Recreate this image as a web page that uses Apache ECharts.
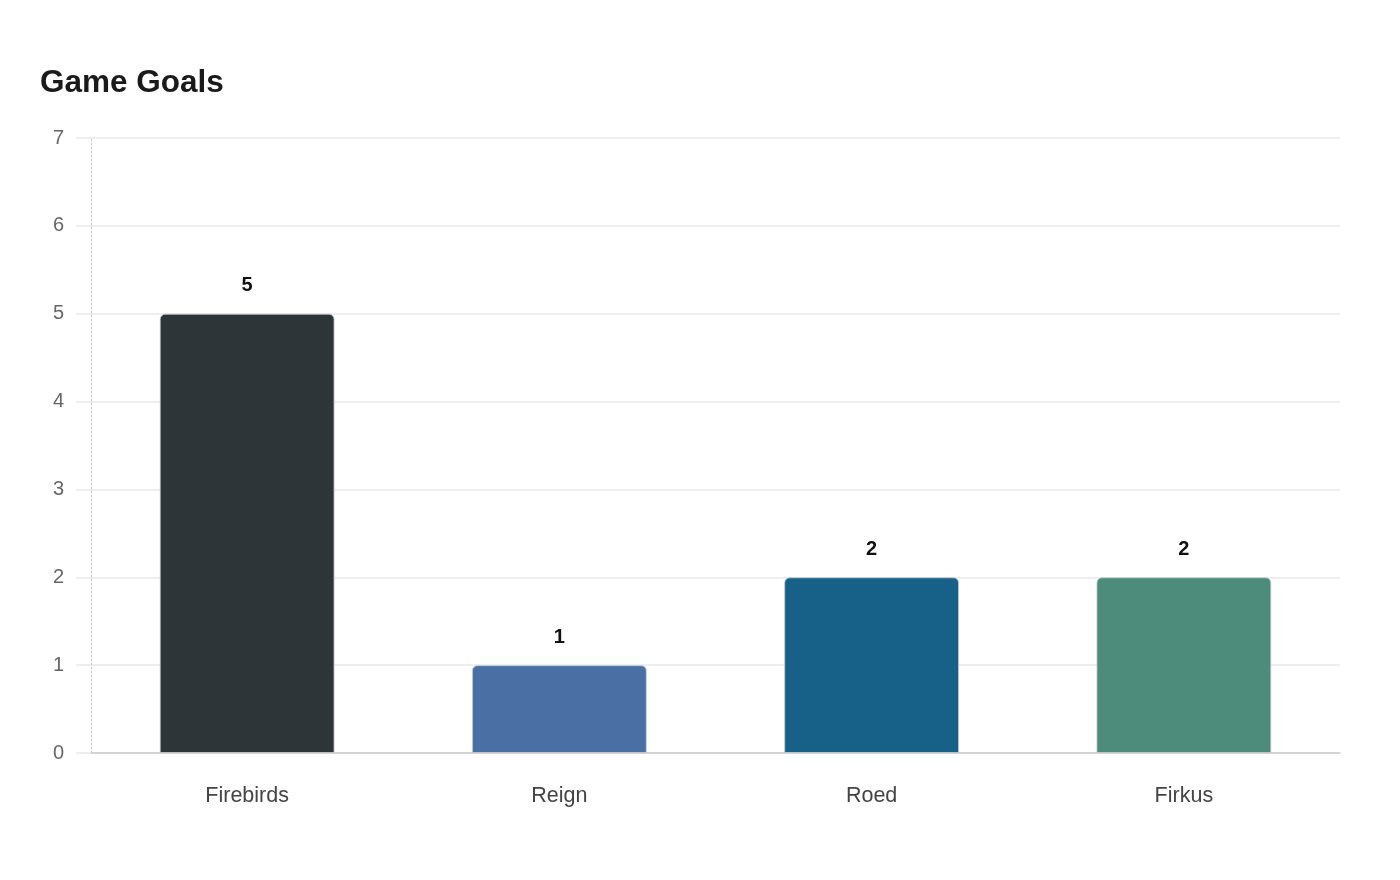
<!DOCTYPE html>
<html><head><meta charset="utf-8">
<script src="https://cdn.jsdelivr.net/npm/echarts@6/dist/echarts.min.js"></script>
<style>html,body{margin:0;padding:0;background:#fff}#c{width:1400px;height:880px}</style>
</head><body><div id="c"></div>
<script>
const categories = ["Firebirds", "Reign", "Roed", "Firkus"];
const goals = [5, 1, 2, 2];
const barColors = ["#2e3538", "#4a6fa5", "#176087", "#4d8c7a"];
const yTicks = [0, 1, 2, 3, 4, 5, 6, 7];

const chart = echarts.init(document.getElementById('c'));
chart.setOption({
  animation: false,
  title: {
    text: 'Game Goals', left: 35, top: 62,
    textStyle: { fontFamily: 'Liberation Sans, Arial, sans-serif', fontSize: 31.5, fontWeight: 'bold', color: '#1a1a1a' }
  },
  grid: { left: 91, right: 60, top: 138, bottom: 127 },
  xAxis: {
    type: 'category', data: categories,
    axisLine: { lineStyle: { color: '#ccc', width: 1.5 } },
    axisTick: { show: false },
    axisLabel: { fontFamily: 'Liberation Sans, Arial, sans-serif', fontSize: 21.5, color: '#444', margin: 32 }
  },
  yAxis: {
    type: 'value', min: yTicks[0], max: yTicks[yTicks.length - 1], interval: 1,
    axisLine: { show: true, lineStyle: { color: '#ccc', width: 1, type: [2, 2] } },
    axisTick: { show: true, length: 15, lineStyle: { color: '#eee', width: 2 } },
    axisLabel: { fontFamily: 'Liberation Sans, Arial, sans-serif', fontSize: 20, color: '#666', margin: 27, padding: [2, 0, 0, 0] },
    splitLine: { lineStyle: { color: '#eee', width: 2 } }
  },
  series: [{
    type: 'bar', barWidth: '56%',
    data: goals.map((v, i) => ({ value: v, itemStyle: { color: barColors[i] } })),
    itemStyle: { borderRadius: [5, 5, 0, 0], borderColor: 'rgba(200,205,210,0.8)', borderWidth: 1 },
    label: {
      show: true, position: 'top', distance: 18,
      fontFamily: 'Liberation Sans, Arial, sans-serif', fontSize: 20, fontWeight: 'bold', color: '#111'
    }
  }]
});
</script></body></html>
